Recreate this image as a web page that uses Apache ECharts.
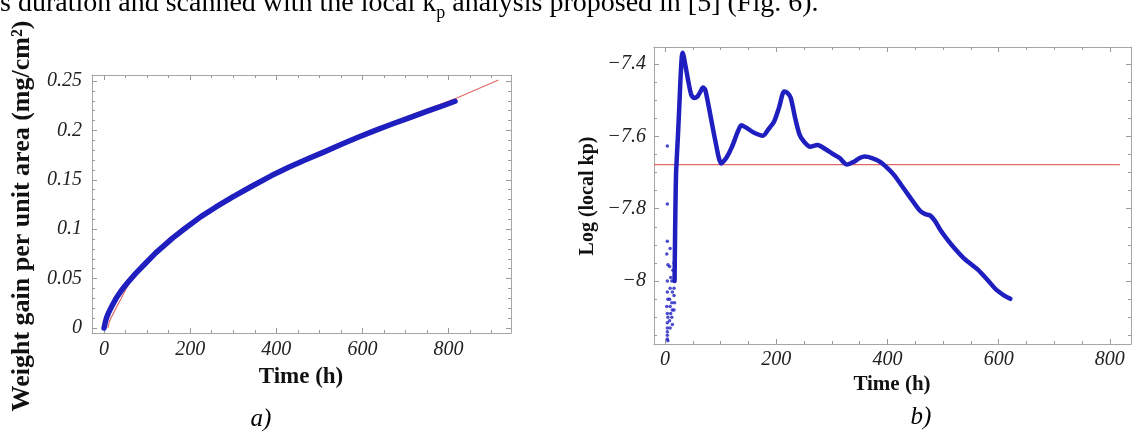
<!DOCTYPE html>
<html><head><meta charset="utf-8">
<script src="https://cdn.jsdelivr.net/npm/echarts@6/dist/echarts.min.js"></script>
<style>html,body{margin:0;padding:0;background:#fff}#c{width:1133px;height:433px}</style>
</head><body><div id="c"></div><script>
// ---- data ----
const gainTime  = [0, 3, 6, 10, 18, 28, 41, 55, 73, 93, 120, 159, 190, 225, 260, 299, 340, 389, 430, 472, 510, 546, 587, 630, 669, 710, 751, 790, 815];
const gainValue = [0, 0.006, 0.0105, 0.015, 0.022, 0.030, 0.0385, 0.046, 0.055, 0.064, 0.076, 0.091, 0.1015, 0.1127, 0.1225, 0.1327, 0.1427, 0.1543, 0.163, 0.171, 0.178, 0.185, 0.1925, 0.2, 0.2065, 0.213, 0.2195, 0.2255, 0.2295];
const gainFitTime  = [9, 12, 16, 22, 30, 40, 55, 73, 93, 120, 159, 225, 299, 389, 472, 546, 630, 710, 815, 916];
const gainFitValue = [0, 0.006, 0.010, 0.015, 0.022, 0.030, 0.043, 0.053, 0.063, 0.075, 0.09, 0.1125, 0.1327, 0.1543, 0.171, 0.1855, 0.201, 0.215, 0.232, 0.251];

const kpTime = [17, 18, 19, 20, 23, 26, 28, 30, 31.5, 36, 42, 47, 52, 58, 64, 68, 72, 80, 90, 101, 110, 120, 130, 137, 145, 160, 176, 186, 196, 205, 214, 220, 226, 234, 242, 250, 261, 274, 288, 300, 314, 327, 340, 350, 359, 372, 386, 400, 412, 425, 438, 458, 468, 477, 486, 494, 505, 517, 536, 550, 562, 580, 595, 610, 621];
const kpLog  = [-8.0, -7.86, -7.75, -7.69, -7.6, -7.5, -7.43, -7.38, -7.369, -7.40, -7.45, -7.485, -7.494, -7.49, -7.475, -7.465, -7.47, -7.53, -7.61, -7.675, -7.66, -7.63, -7.59, -7.569, -7.575, -7.59, -7.598, -7.58, -7.559, -7.52, -7.476, -7.48, -7.494, -7.55, -7.596, -7.615, -7.629, -7.624, -7.635, -7.647, -7.66, -7.678, -7.67, -7.66, -7.656, -7.66, -7.670, -7.688, -7.707, -7.735, -7.763, -7.805, -7.815, -7.819, -7.835, -7.856, -7.88, -7.903, -7.935, -7.953, -7.968, -7.997, -8.023, -8.04, -8.049];
const kpNoiseTime = [4, 4, 4, 3, 5, 4, 4, 5, 3, 4, 5, 4, 4, 4, 4, 4, 5, 9, 8, 10, 9, 8, 9, 10, 8, 9, 12, 13, 12, 13, 12, 13, 14, 16, 16, 17, 16, 17, 16];
const kpNoiseLog  = [-7.627, -7.787, -7.89, -7.925, -7.955, -8.0, -8.03, -8.05, -8.07, -8.09, -8.1, -8.115, -8.13, -8.14, -8.15, -8.16, -8.165, -7.91, -7.96, -7.99, -8.02, -8.05, -8.07, -8.09, -8.11, -8.13, -8.0, -8.03, -8.06, -8.08, -8.1, -8.12, -7.97, -8.02, -8.04, -8.06, -8.08, -7.99, -7.95];
const kpFitTime = [-20, 818];
const kpFitLog  = [-7.678, -7.678];

const aXTicks = [0, 200, 400, 600, 800];
const aYTicks = [0, 0.05, 0.1, 0.15, 0.2, 0.25];
const bXTicks = [0, 200, 400, 600, 800];
const bYTicks = [-8, -7.8, -7.6, -7.4];

// ---- styling ----
const BLUE = '#1f1fc0', RED = '#e06a6a', FRAME = '#a6a6a6', TICK = '#9a9a9a';
const SERIF = '"Liberation Serif", "DejaVu Serif", serif';
const MAJ = 5, MINL = 3;

function minorTicks(min, max, step, majors) {
  const out = [];
  const start = Math.ceil(min / step - 1e-9);
  for (let k = start; k * step <= max + 1e-9; k++) {
    const v = +(k * step).toFixed(6);
    if (v <= min || v >= max) continue;
    if (majors.some(m => Math.abs(m - v) < 1e-9)) continue;
    out.push(v);
  }
  return out;
}
const zip = (a, b) => a.map((v, i) => [v, b[i]]);

function axisSet(gridIndex, min, max, major, minor, sides, fmt, margin) {
  const base = {type: 'value', gridIndex, min, max, splitLine: {show: false}, axisPointer: {show: false}};
  const line = {show: true, onZero: false, lineStyle: {color: FRAME, width: 1}};
  const noLine = {show: false, onZero: false};
  const tick = (vals, len) => ({show: true, inside: true, length: len, customValues: vals, lineStyle: {color: TICK, width: 1}});
  const noLabel = {show: false};
  return [
    Object.assign({}, base, {position: sides[0], axisLine: line, axisTick: tick(major, MAJ),
      axisLabel: {show: true, customValues: major, formatter: fmt, margin, fontFamily: SERIF, fontStyle: 'italic', fontSize: 20, color: '#222'}}),
    Object.assign({}, base, {position: sides[0], axisLine: noLine, axisTick: tick(minor, MINL), axisLabel: noLabel}),
    Object.assign({}, base, {position: sides[1], axisLine: line, axisTick: tick(major, MAJ), axisLabel: noLabel}),
    Object.assign({}, base, {position: sides[1], axisLine: noLine, axisTick: tick(minor, MINL), axisLabel: noLabel})
  ];
}

const A = {xMin: -28, xMax: 945, yMin: -0.0051, yMax: 0.2561};
const B = {xMin: -20, xMax: 838, yMin: -8.174, yMax: -7.353};

const fmtPlain = v => String(+v.toFixed(4));
const fmtMinus = v => String(+v.toFixed(4)).replace('-', '\u2212');

const xAxes = [].concat(
  axisSet(0, A.xMin, A.xMax, aXTicks, minorTicks(A.xMin, A.xMax, 50, aXTicks), ['bottom', 'top'], fmtPlain, 7),
  axisSet(1, B.xMin, B.xMax, bXTicks, minorTicks(B.xMin, B.xMax, 50, bXTicks), ['bottom', 'top'], fmtPlain, 6)
);
const yAxes = [].concat(
  axisSet(0, A.yMin, A.yMax, aYTicks, minorTicks(A.yMin, A.yMax, 0.01, aYTicks), ['left', 'right'], fmtPlain, 10),
  axisSet(1, B.yMin, B.yMax, bYTicks, minorTicks(B.yMin, B.yMax, 0.05, bYTicks), ['left', 'right'], fmtMinus, 8)
);

// measure text for the cropped paragraph line
const cv = document.createElement('canvas').getContext('2d');
const TOPFONT = '28px ' + SERIF, SUBFONT = '18px ' + SERIF;
const t1 = 's duration and scanned with the local k';
const t2 = 'p';
const t3 = ' analysis proposed in [5] (Fig. 6).';
cv.font = TOPFONT; const w1 = cv.measureText(t1).width;
cv.font = SUBFONT; const w2 = cv.measureText(t2).width;

const chart = echarts.init(document.getElementById('c'), null, {renderer: 'canvas'});
chart.setOption({
  animation: false,
  backgroundColor: '#fff',
  grid: [
    {left: 92, top: 75, width: 419, height: 258, containLabel: false, outerBoundsMode: 'none'},
    {left: 654, top: 47, width: 477, height: 297, containLabel: false, outerBoundsMode: 'none'}
  ],
  xAxis: xAxes,
  yAxis: yAxes,
  series: [
    {type: 'line', name: 'fit a', xAxisIndex: 0, yAxisIndex: 0, data: zip(gainFitTime, gainFitValue), showSymbol: false, smooth: false, lineStyle: {color: RED, width: 1.2}, z: 2, silent: true},
    {type: 'line', name: 'gain', xAxisIndex: 0, yAxisIndex: 0, data: zip(gainTime, gainValue), showSymbol: false, smooth: false, lineStyle: {color: BLUE, width: 5.5, cap: 'round', join: 'round'}, z: 3, silent: true},
    {type: 'line', name: 'fit b', xAxisIndex: 4, yAxisIndex: 4, data: zip(kpFitTime, kpFitLog), showSymbol: false, lineStyle: {color: RED, width: 1.2}, z: 2, silent: true},
    {type: 'scatter', name: 'noise', xAxisIndex: 4, yAxisIndex: 4, data: zip(kpNoiseTime, kpNoiseLog), symbolSize: 3.5, itemStyle: {color: BLUE}, z: 3, silent: true},
    {type: 'line', name: 'kp', xAxisIndex: 4, yAxisIndex: 4, data: zip(kpTime, kpLog), showSymbol: false, smooth: 0.25, lineStyle: {color: BLUE, width: 4.5, cap: 'round', join: 'round'}, z: 3, silent: true}
  ],
  graphic: [
    {type: 'text', x: 0, y: 18, style: {text: t1, font: TOPFONT, fill: '#000', verticalAlign: 'bottom'}},
    {type: 'text', x: w1, y: 22, style: {text: t2, font: SUBFONT, fill: '#000', verticalAlign: 'bottom'}},
    {type: 'text', x: w1 + w2, y: 18, style: {text: t3, font: TOPFONT, fill: '#000', verticalAlign: 'bottom'}},
    {type: 'text', x: 22, y: 216, rotation: Math.PI / 2, style: {text: 'Weight gain per unit area (mg/cm\u00B2)', font: 'bold 26px ' + SERIF, fill: '#111', align: 'center', verticalAlign: 'middle'}},
    {type: 'text', x: 301, y: 377, style: {text: 'Time (h)', font: 'bold 23px ' + SERIF, fill: '#111', align: 'center', verticalAlign: 'middle'}},
    {type: 'text', x: 588, y: 196, rotation: Math.PI / 2, style: {text: 'Log (local kp)', font: 'bold 20px ' + SERIF, fill: '#111', align: 'center', verticalAlign: 'middle'}},
    {type: 'text', x: 892, y: 385, style: {text: 'Time (h)', font: 'bold 21px ' + SERIF, fill: '#111', align: 'center', verticalAlign: 'middle'}},
    {type: 'text', x: 261, y: 419, style: {text: 'a)', font: 'italic 25px ' + SERIF, fill: '#000', align: 'center', verticalAlign: 'middle'}},
    {type: 'text', x: 921, y: 417, style: {text: 'b)', font: 'italic 25px ' + SERIF, fill: '#000', align: 'center', verticalAlign: 'middle'}}
  ]
});
</script></body></html>
